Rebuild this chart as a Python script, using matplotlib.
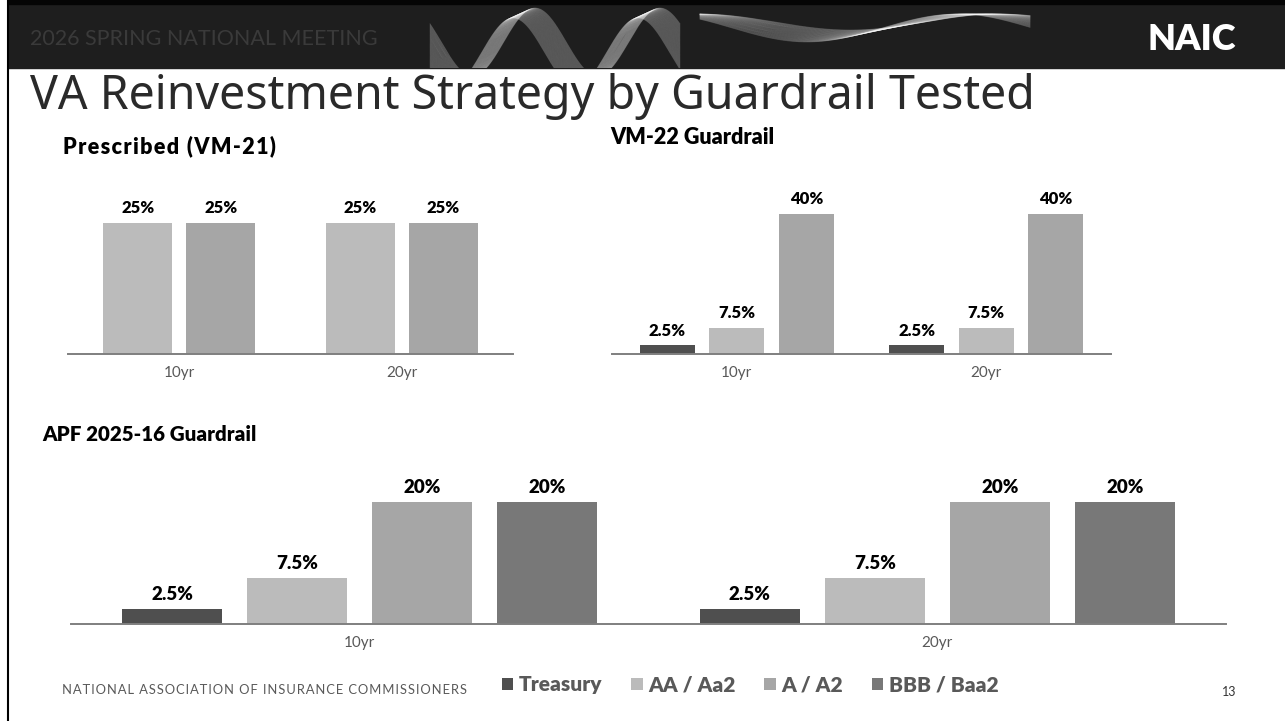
"""VA reinvestment strategy by guardrail tested - three bar panels on an NAIC-style slide."""
import numpy as np
import matplotlib
matplotlib.use("Agg")
import matplotlib.pyplot as plt
from matplotlib.patches import Patch, Rectangle

W, H = 1285, 721

# ---- data -----------------------------------------------------------------
CATEGORIES = ["10yr", "20yr"]
SERIES = ["Treasury", "AA / Aa2", "A / A2", "BBB / Baa2"]

vm21_aa = [25, 25]
vm21_a = [25, 25]

vm22_treasury = [2.5, 2.5]
vm22_aa = [7.5, 7.5]
vm22_a = [40, 40]

apf_treasury = [2.5, 2.5]
apf_aa = [7.5, 7.5]
apf_a = [20, 20]
apf_bbb = [20, 20]

COLORS = {"Treasury": "#4f4f4f", "AA / Aa2": "#bbbbbb",
          "A / A2": "#a6a6a6", "BBB / Baa2": "#787878"}

FONT = ["Lato", "DejaVu Sans"]
plt.rcParams["font.family"] = FONT
HAIR = "\u200a"


def px_axes(fig, left, right, top, bottom):
    return fig.add_axes([left / W, 1 - bottom / H, (right - left) / W, (bottom - top) / H])


def draw_panel(fig, series, box, pitch, width, ppu, label_size):
    left, right, top, baseline = box
    ax = px_axes(fig, left, right, top, baseline)
    x = np.arange(len(CATEGORIES))
    n = len(series)
    for i, (name, vals) in enumerate(series):
        off = (i - (n - 1) / 2) * pitch
        bars = ax.bar(x + off, vals, width=width, color=COLORS[name], zorder=2)
        for b, v in zip(bars, vals):
            ax.annotate(f"{v:g}%", (b.get_x() + b.get_width() / 2, v),
                        xytext=(0, 10.5), textcoords="offset points",
                        ha="center", va="center", fontsize=label_size,
                        fontweight="heavy", color="black")
    ax.set_xlim(-0.5, len(CATEGORIES) - 0.5)
    ax.set_ylim(0, (baseline - top) / ppu)
    ax.set_xticks(x)
    ax.set_xticklabels(CATEGORIES, fontsize=11, color="#595959")
    ax.tick_params(axis="x", length=0, pad=9)
    ax.set_yticks([])
    for s in ("top", "right", "left"):
        ax.spines[s].set_visible(False)
    ax.spines["bottom"].set_color("#7f7f7f")
    ax.spines["bottom"].set_linewidth(1.4)
    ax.patch.set_alpha(0)
    return ax


fig = plt.figure(figsize=(W / 100, H / 100), dpi=100)

# ---- slide chrome ----------------------------------------------------------
bg = fig.add_axes([0, 0, 1, 1], zorder=-5)
bg.set_xlim(0, W)
bg.set_ylim(H, 0)
bg.axis("off")
band = Rectangle((8, 0), W - 8, 68, color="#1e1e1e", zorder=0)
bg.add_patch(band)
bg.add_patch(Rectangle((8, 0), W - 8, 4, color="#050505", zorder=3))
bg.plot([8, 8], [0, H], color="black", lw=1.5, zorder=4)

# decorative ribbons in the header
xs = np.linspace(430, 680, 500)
for k in range(45):
    ph = 1.1 * k / 44
    ys = 42 - 34 * np.cos(2 * np.pi * (xs - 535) / 125 + ph) + 10 * k / 44
    ln, = bg.plot(xs, ys, color="white", lw=0.5, alpha=0.22, zorder=1)
    ln.set_clip_path(band)
xs2 = np.linspace(700, 1030, 500)
for k in range(35):
    ph = 0.9 * k / 34
    amp = 8 + 6 * k / 34
    ys = 14 + amp - amp * np.cos(2 * np.pi * (xs2 - 1000) / 300 + ph)
    ln, = bg.plot(xs2, ys, color="white", lw=0.5, alpha=0.2, zorder=1)
    ln.set_clip_path(band)

fig.text(30 / W, 1 - 39 / H, "2026 SPRING NATIONAL MEETING", fontsize=15.5,
         color="#3a3a3a", va="center", ha="left")
fig.text(1148 / W, 1 - 40 / H, "NAIC", fontsize=26, fontweight="heavy",
         color="white", va="center", ha="left")

fig.text(30 / W, 1 - 97 / H, "VA Reinvestment Strategy by Guardrail Tested",
         fontsize=33.5, fontweight="light", color="#2a2a2a", va="center", ha="left",
         family=["Noto Sans", "DejaVu Sans"])

fig.text(63 / W, 1 - 146 / H, HAIR.join("Prescribed (VM-21)"), fontsize=15.5,
         fontweight="heavy", color="black", va="center", family=FONT)
fig.text(610 / W, 1 - 137 / H, "VM-22 Guardrail", fontsize=15.5,
         fontweight="heavy", color="black", va="center")
fig.text(42 / W, 1 - 435 / H, "APF 2025-16 Guardrail", fontsize=14.8,
         fontweight="heavy", color="black", va="center")

# ---- charts -----------------------------------------------------------------
draw_panel(fig, [("AA / Aa2", vm21_aa), ("A / A2", vm21_a)],
           (68, 513, 185, 354), pitch=0.373, width=0.312, ppu=131 / 25, label_size=12)
draw_panel(fig, [("Treasury", vm22_treasury), ("AA / Aa2", vm22_aa), ("A / A2", vm22_a)],
           (612, 1111, 185, 354), pitch=0.279, width=0.22, ppu=140 / 40, label_size=12)
draw_panel(fig, [("Treasury", apf_treasury), ("AA / Aa2", apf_aa),
                 ("A / A2", apf_a), ("BBB / Baa2", apf_bbb)],
           (71, 1226, 470, 624), pitch=0.2165, width=0.173, ppu=122 / 20, label_size=13.5)

handles = [Patch(facecolor=COLORS[s], label=s) for s in SERIES]
leg = fig.legend(handles=handles, loc="center", bbox_to_anchor=(750 / W, 1 - 685 / H),
                 ncol=4, frameon=False, fontsize=15, handlelength=0.55, handleheight=0.55,
                 handletextpad=0.25, columnspacing=1.4)
for t in leg.get_texts():
    t.set_color("#595959")
    t.set_fontweight("heavy")

footer = HAIR.join("NATIONAL ASSOCIATION OF INSURANCE COMMISSIONERS")
fig.text(62 / W, 1 - 690 / H, footer, fontsize=9.4, color="#595959",
         va="center", ha="left", family=FONT)
fig.text(1222 / W, 1 - 692 / H, "13", fontsize=9, color="#333333", va="center", ha="left")

fig.savefig("out.png", dpi=100)
